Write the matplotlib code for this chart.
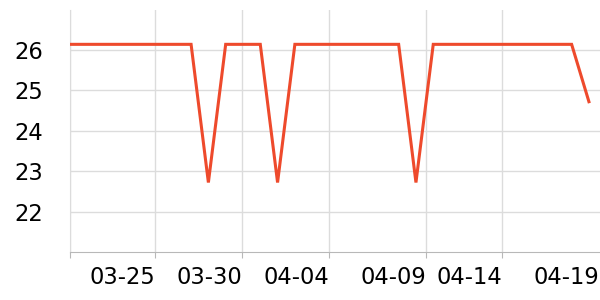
import matplotlib
matplotlib.use("Agg")
from matplotlib import pyplot as plt

# One value per day, 03-20 .. 04-19
dates = ["03-%02d" % d for d in range(20, 32)] + ["04-%02d" % d for d in range(1, 20)]
values = [26.14] * 31
for i in [8, 12, 20]:
    values[i] = 22.72
values[30] = 24.72

# Tick labels and their day offsets
tick_labels = ["", "03-25", "03-30", "04-04", "04-09", "04-14", "04-19"]
tick_days = [0, 4.9, 9.95, 15.0, 20.6, 25.0, 30.62]
y_ticks = [22, 23, 24, 25, 26]

line_col = "#ee4a2c"
grid_col = "#dcdcdc"
axis_col = "#b8b8b8"

fig = plt.figure(figsize=(6, 3), dpi=100)
ax = fig.add_axes([70 / 600, 48 / 300, 530 / 600, 242 / 300])

ax.plot(range(len(values)), values, color=line_col, linewidth=2.2,
        solid_joinstyle="miter", zorder=3)

ax.set_xlim(0, 30.64)
ax.set_ylim(21, 26.99)

ax.set_xticks(tick_days)
ax.set_xticklabels(tick_labels, ha="right", fontsize=16.3)
ax.set_yticks(y_ticks)
ax.set_yticklabels([str(v) for v in y_ticks], fontsize=16.3)

ax.grid(True, color=grid_col, linewidth=1)
ax.set_axisbelow(True)
# last tick sits on the right edge: no grid line or tick mark there
ax.xaxis.get_gridlines()[-1].set_visible(False)
ax.xaxis.get_major_ticks()[-1].tick1line.set_visible(False)

for s in ["top", "right"]:
    ax.spines[s].set_visible(False)
ax.spines["left"].set_color(grid_col)
ax.spines["bottom"].set_color(axis_col)
ax.tick_params(axis="x", length=4, color=axis_col, pad=6)
ax.tick_params(axis="y", length=0, pad=19)

plt.savefig("out.png", dpi=100)
